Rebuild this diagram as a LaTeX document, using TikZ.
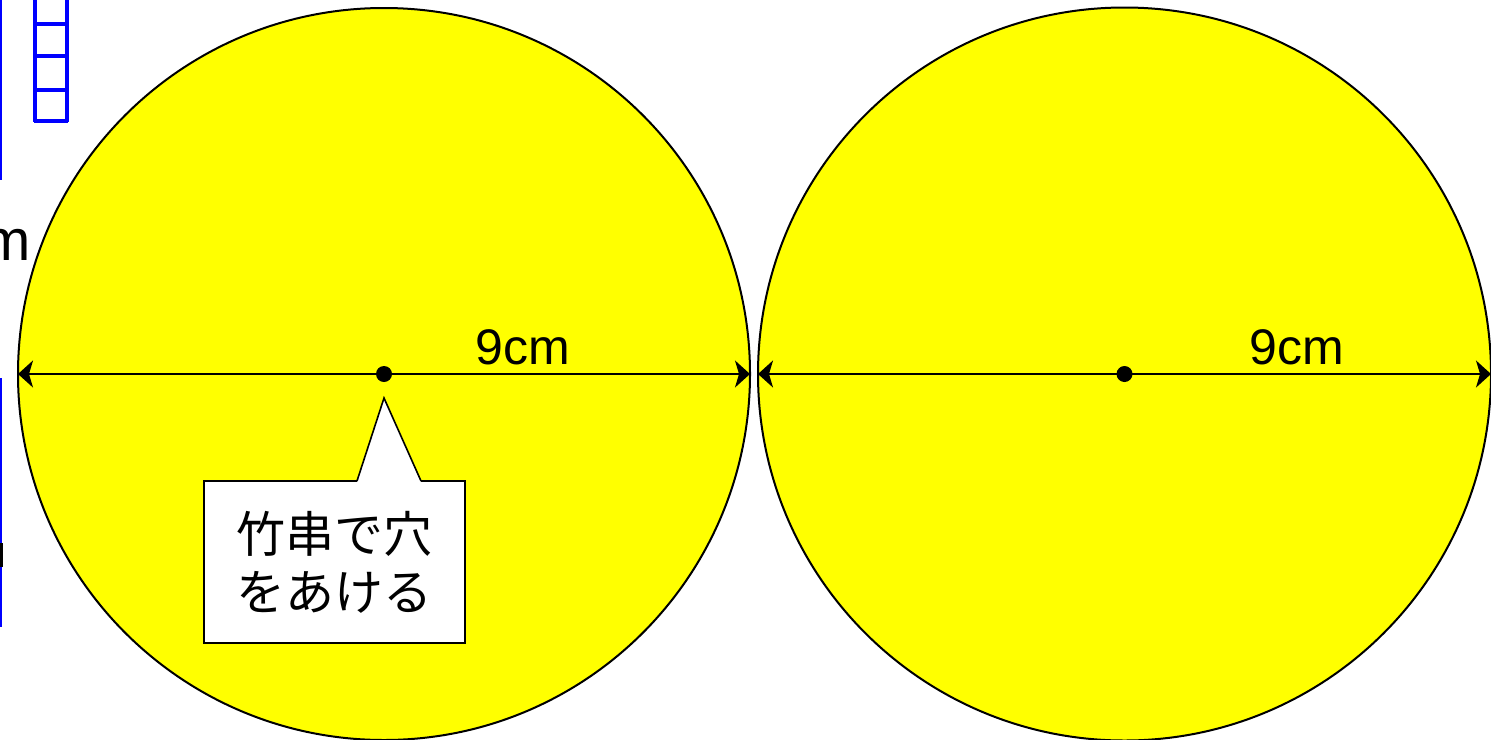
\documentclass[tikz,border=0pt]{standalone}
\usepackage{fontspec}
\setmainfont{Liberation Sans}
\newfontfamily\cjk{Noto Sans CJK JP}
\usetikzlibrary{arrows.meta}
\definecolor{pureyellow}{RGB}{255,255,0}
\definecolor{pureblue}{RGB}{0,0,255}
\tikzset{
  disc/.style={circle, draw=black, fill=pureyellow, line width=1pt, inner sep=0pt, outer sep=0pt},
  dim/.style={line width=1pt, {Stealth[length=7.5pt,width=13.5pt,inset=2pt]}-{Stealth[length=7.5pt,width=13.5pt,inset=2pt]}},
  centerdot/.style={circle, fill=black, minimum size=8pt, inner sep=0pt},
  lbl/.style={font=\fontsize{25pt}{30pt}\selectfont, inner sep=0pt},
  callbox/.style={draw=black, fill=white, line width=0.8pt, minimum width=130.5pt, minimum height=81pt, inner sep=0pt, align=center, font=\cjk\fontsize{24.5pt}{29pt}\selectfont},
  bluefrag/.style={draw=pureblue, line width=2pt},
}
\begin{document}
\begin{tikzpicture}[x=0.5pt,y=-0.5pt]
\useasboundingbox (0,0) rectangle (1491,739);
\begin{scope}
\clip (0,0) rectangle (1491,739);
% left partial fragments
\draw[draw=pureblue, line width=1.2pt] (1,0) -- (1,180);
\draw[draw=pureblue, line width=1.2pt] (1,378) -- (1,627);
\draw[bluefrag] (34.5,0) -- (34.5,122) (67,0) -- (67,122);
\draw[bluefrag] (34.5,23.5) -- (67,23.5) (34.5,56) -- (67,56) (34.5,89.5) -- (67,89.5) (33.5,121) -- (68,121);
\node[font=\fontsize{29pt}{34pt}\selectfont, inner sep=0pt, anchor=base east] (mfrag) at (31,260) {cm};
\fill[black] (0,543) rectangle (3,567);
% circles
\node[disc, minimum size=366pt] (c1) at (384,374) {};
\node[disc, minimum size=366.5pt] (c2) at (1124.5,374) {};
\draw[dim] (c1.west) -- (c1.east);
\draw[dim] (c2.west) -- (c2.east);
\node[centerdot] (d1) at (c1.center) {};
\node[centerdot] (d2) at (c2.center) {};
\node[lbl] (l1) at (523,347) {9cm};
\node[lbl] (l2) at (1297,347) {9cm};
% callout
\node[callbox] (cb) at (334.5,562) {竹串で穴\\をあける};
\coordinate (tip) at (384,398);
\fill[white] (357,482) -- (tip) -- (421,482) -- cycle;
\draw[line width=0.8pt, line join=miter] (357,481) -- (tip) -- (421,481);
\end{scope}
\end{tikzpicture}
\end{document}
